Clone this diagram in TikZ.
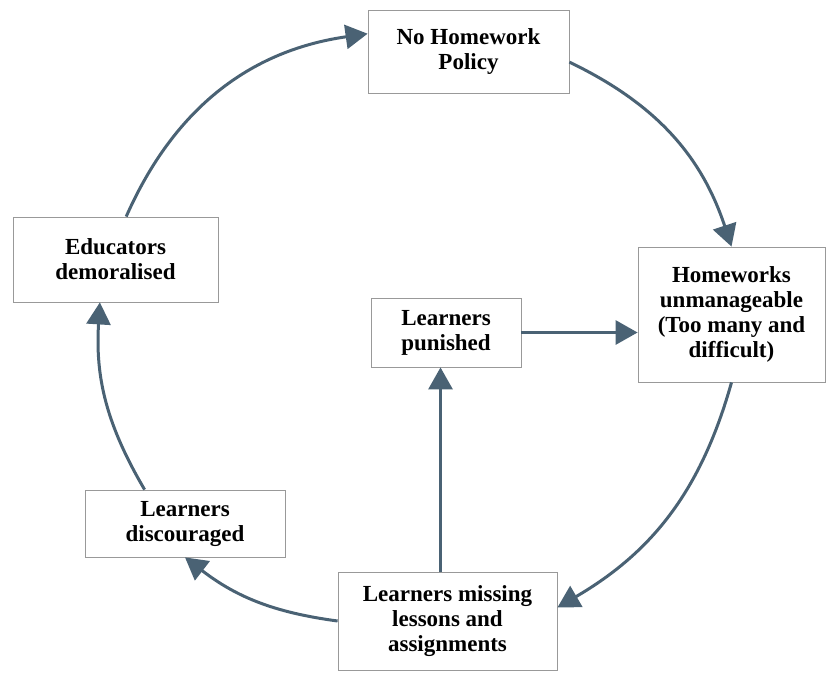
\documentclass[tikz,border=0pt]{standalone}
\usepackage{fontspec}
\setmainfont{Liberation Serif}
\usetikzlibrary{arrows.meta}
\definecolor{arrowblue}{RGB}{74,98,116}

\begin{document}
\begin{tikzpicture}[x=1pt, y=-1pt,
    box/.style={draw=gray!80, line width=0.8pt, fill=white, align=center, inner sep=0pt,
      font={\fontsize{23}{25}\selectfont\bfseries}},
    flow/.style={draw=arrowblue, line width=3pt, -{Triangle[length=22pt,width=24pt]}}]

  \useasboundingbox (0,0) rectangle (832,672);

  % Boxes round the cycle
  \node[box, minimum width=201pt, minimum height=83pt] (policy) at (468.5,51.5) {No Homework\\Policy};
  \node[box, minimum width=187pt, minimum height=135pt] (hw) at (731.5,314.5) {Homeworks\\unmanageable\\(Too many and\\difficult)};
  \node[box, minimum width=219pt, minimum height=98pt] (miss) at (447.5,621) {Learners missing\\lessons and\\assignments};
  \node[box, minimum width=200pt, minimum height=67pt] (disc) at (185,523.5) {Learners\\discouraged};
  \node[box, minimum width=205pt, minimum height=85pt] (edu) at (115.5,259.5) {Educators\\demoralised};

  % Box in the middle
  \node[box, minimum width=150pt, minimum height=69pt] (pun) at (446,332.5) {Learners\\punished};

  % Cycle arrows
  \draw[flow] (edu.76) to[bend left=29] (policy.170);
  \draw[flow] (policy.-6) to[bend left=23] (hw.north);
  \draw[flow] (hw.south) to[bend left=22] (miss.7);
  \draw[flow] (miss.west) to[bend left=15] (disc.south);
  \draw[flow] (disc.140) to[bend left=17] (edu.250);

  % Inner arrows
  \draw[flow] ([xshift=-7pt]miss.north) -- ([xshift=-7pt]miss.north |- pun.south);
  \draw[flow] (pun.east) -- (pun.east -| hw.west);

\end{tikzpicture}
\end{document}
